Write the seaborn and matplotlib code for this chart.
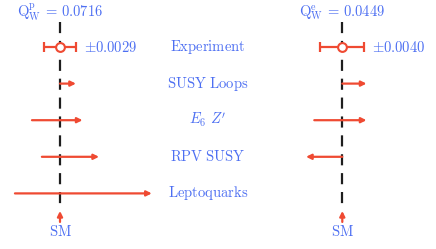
import numpy as np
import pandas as pd
import matplotlib
matplotlib.use("Agg")
import matplotlib.pyplot as plt
import matplotlib.transforms as mtransforms
import seaborn as sns

# ---------------- data ----------------
categories = ["Experiment", "SUSY Loops", "E6 Z'", "RPV SUSY", "Leptoquarks"]
category_tex = [r"$\mathrm{Experiment}$", r"$\mathrm{SUSY\ Loops}$", r"$E_6\ Z'$",
                r"$\mathrm{RPV\ SUSY}$", r"$\mathrm{Leptoquarks}$"]

# proton weak charge panel
qw_p_sm = 0.0716
qw_p_err = 0.0029
p_models = ["SUSY Loops", "E6 Z'", "RPV SUSY", "Leptoquarks"]
p_start = [0.0, -0.0051, -0.0033, -0.0082]   # shift from SM
p_end = [0.0029, 0.0041, 0.0071, 0.0167]

# electron weak charge panel
qw_e_sm = 0.0449
qw_e_err = 0.0040
e_models = ["SUSY Loops", "E6 Z'", "RPV SUSY"]
e_start = [0.0, -0.0051, 0.0]
e_end = [0.0044, 0.0044, -0.0066]

# ---------------- style ----------------
sns.set_theme(style="white")
plt.rcParams["mathtext.fontset"] = "cm"
plt.rcParams["font.family"] = ["DejaVu Sans"]

RED = "#ef4a32"
BLUE = "#4d6ff2"
DASH = "#1e1e1e"

W, H = 436, 249
fig = plt.figure(figsize=(W / 100, H / 100), dpi=100)

k = 0.000182          # Q_W units per pixel
row_px = 36.6         # pixels between rows
row0_px = 47.0        # pixel y of first row
y_top = -row0_px / row_px
y_bot = (H - row0_px) / row_px

def make_axes(left_px, width_px, center_px, sm):
    ax = fig.add_axes([left_px / W, 0, width_px / W, 1])
    ax.set_xlim(sm - (center_px - left_px) * k, sm + (left_px + width_px - center_px) * k)
    ax.set_ylim(y_bot, y_top)
    ax.axis("off")
    return ax

axL = make_axes(0, 218, 60, qw_p_sm)
axR = make_axes(218, 218, 342.3, qw_e_sm)

row_index = {c: i for i, c in enumerate(categories)}

def draw_panel(ax, sm, err, models, starts, ends, label_sm, err_label):
    # dashed SM line
    ax.plot([sm, sm], [-0.68, 4.36], color=DASH, lw=1.6, ls=(0, (5, 3.5)), zorder=1)
    # experiment error bar
    ax.errorbar([sm], [row_index["Experiment"]], xerr=[err], fmt="none", ecolor=RED,
                elinewidth=1.6, capsize=3.5, capthick=1.6, zorder=3)
    exp_df = pd.DataFrame({"x": [sm], "y": [row_index["Experiment"]]})
    sns.scatterplot(data=exp_df, x="x", y="y", ax=ax, s=40, marker="o",
                    facecolor="white", edgecolor=RED, linewidth=1.5, zorder=4,
                    legend=False)
    ax.text(sm + err + 8 * k, row_index["Experiment"], err_label, color=BLUE,
            fontsize=10.5, ha="left", va="center")
    # model arrows
    for m, s, e in zip(models, starts, ends):
        r = row_index[m]
        ax.annotate("", xy=(sm + e, r), xytext=(sm + s, r),
                    arrowprops=dict(arrowstyle="-|>", color=RED, lw=1.6,
                                    mutation_scale=7.5, shrinkA=0, shrinkB=0),
                    zorder=3)
    # SM arrow
    ax.annotate("", xy=(sm, 4.48), xytext=(sm, 4.78),
                arrowprops=dict(arrowstyle="-|>", color=RED, lw=1.6,
                                mutation_scale=7.5, shrinkA=0, shrinkB=0))
    ax.text(sm, 5.03, r"$\mathrm{SM}$", color=BLUE, fontsize=10.5,
            ha="center", va="center")
    ax.text(sm, -0.94, label_sm, color=BLUE, fontsize=10.5,
            ha="center", va="center")

draw_panel(axL, qw_p_sm, qw_p_err, p_models, p_start, p_end,
           r"$\mathrm{Q}_\mathrm{W}^\mathrm{p}\,=\,0.0716$", r"$\pm 0.0029$")
draw_panel(axR, qw_e_sm, qw_e_err, e_models, e_start, e_end,
           r"$\mathrm{Q}_\mathrm{W}^\mathrm{e}\,=\,0.0449$", r"$\pm 0.0040$")

# category labels in the middle
trans = mtransforms.blended_transform_factory(fig.transFigure, axL.transData)
for i, lab in enumerate(category_tex):
    axL.text(208 / W, i, lab, transform=trans, color=BLUE, fontsize=10.5,
             ha="center", va="center", clip_on=False)

fig.savefig("out.png", dpi=100, facecolor="white")
